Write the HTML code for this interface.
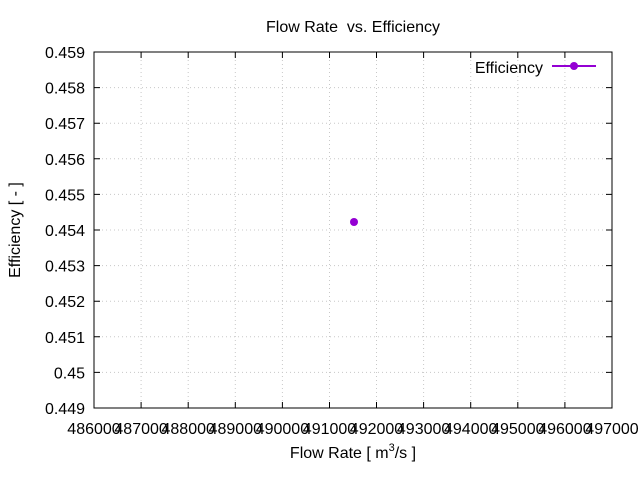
<!DOCTYPE html>
<html><head><meta charset="utf-8"><style>body{margin:0;background:#fff}svg{display:block}text{font-family:"Liberation Sans",sans-serif;font-size:16px;fill:#000}</style></head><body>
<svg width="640" height="480" viewBox="0 0 640 480" xmlns="http://www.w3.org/2000/svg">
<rect width="640" height="480" fill="#fff"/>
<g stroke="#c8c8c8" stroke-width="1" stroke-dasharray="1,3">
<line x1="94" y1="372.4" x2="612" y2="372.4"/><line x1="94" y1="336.8" x2="612" y2="336.8"/><line x1="94" y1="301.2" x2="612" y2="301.2"/><line x1="94" y1="265.6" x2="612" y2="265.6"/><line x1="94" y1="230" x2="612" y2="230"/><line x1="94" y1="194.4" x2="612" y2="194.4"/><line x1="94" y1="158.8" x2="612" y2="158.8"/><line x1="94" y1="123.2" x2="612" y2="123.2"/><line x1="94" y1="87.6" x2="612" y2="87.6"/>
<line x1="141.1" y1="52" x2="141.1" y2="408"/><line x1="188.2" y1="52" x2="188.2" y2="408"/><line x1="235.3" y1="52" x2="235.3" y2="408"/><line x1="282.4" y1="52" x2="282.4" y2="408"/><line x1="329.5" y1="52" x2="329.5" y2="408"/><line x1="376.5" y1="52" x2="376.5" y2="408"/><line x1="423.6" y1="52" x2="423.6" y2="408"/><line x1="470.7" y1="52" x2="470.7" y2="408"/><line x1="517.8" y1="52" x2="517.8" y2="408"/><line x1="564.9" y1="52" x2="564.9" y2="408"/>
</g>
<g stroke="#000" stroke-width="1">
<rect x="94" y="52" width="518" height="356" fill="none"/>
<path d="M94 372.4h6M94 336.8h6M94 301.2h6M94 265.6h6M94 230h6M94 194.4h6M94 158.8h6M94 123.2h6M94 87.6h6M612 372.4h-6M612 336.8h-6M612 301.2h-6M612 265.6h-6M612 230h-6M612 194.4h-6M612 158.8h-6M612 123.2h-6M612 87.6h-6"/>
<path d="M141.1 408v-6M188.2 408v-6M235.3 408v-6M282.4 408v-6M329.5 408v-6M376.5 408v-6M423.6 408v-6M470.7 408v-6M517.8 408v-6M564.9 408v-6M141.1 52v6M188.2 52v6M235.3 52v6M282.4 52v6M329.5 52v6M376.5 52v6M423.6 52v6M470.7 52v6M517.8 52v6M564.9 52v6"/>
</g>
<g text-anchor="end">
<text x="85" y="414">0.449</text><text x="85" y="378.4">0.45</text><text x="85" y="342.8">0.451</text><text x="85" y="307.2">0.452</text><text x="85" y="271.6">0.453</text><text x="85" y="236">0.454</text><text x="85" y="200.4">0.455</text><text x="85" y="164.8">0.456</text><text x="85" y="129.2">0.457</text><text x="85" y="93.6">0.458</text><text x="85" y="58">0.459</text>
</g>
<g text-anchor="middle">
<text x="94" y="434">486000</text><text x="141.1" y="434">487000</text><text x="188.2" y="434">488000</text><text x="235.3" y="434">489000</text><text x="282.4" y="434">490000</text><text x="329.5" y="434">491000</text><text x="376.5" y="434">492000</text><text x="423.6" y="434">493000</text><text x="470.7" y="434">494000</text><text x="517.8" y="434">495000</text><text x="564.9" y="434">496000</text><text x="612" y="434">497000</text>
<text x="353" y="32">Flow Rate &#160;vs. Efficiency</text>
<text x="353" y="458">Flow Rate [ m<tspan dy="-7" font-size="11">3</tspan><tspan dy="7">/s ]</tspan></text>
<text transform="translate(20,230) rotate(-90)">Efficiency [ - ]</text>
</g>
<text x="543" y="73" text-anchor="end">Efficiency</text>
<line x1="552" y1="66" x2="596" y2="66" stroke="#9400d3" stroke-width="2"/>
<circle cx="574" cy="66" r="4" fill="#9400d3"/>
<circle cx="354" cy="222" r="4" fill="#9400d3"/>
</svg>
</body></html>
